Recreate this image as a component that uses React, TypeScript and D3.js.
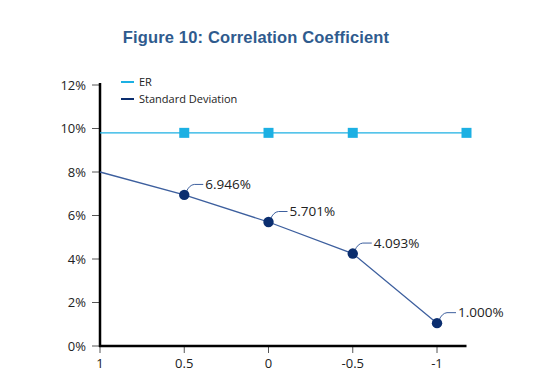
import React from "react";
import * as d3 from "d3";

const title = "Figure 10: Correlation Coefficient";
const xTicks = [1, 0.5, 0, -0.5, -1];
const xTickLabels = ["1", "0.5", "0", "-0.5", "-1"];
const yTicks = [0, 2, 4, 6, 8, 10, 12];
const erX = [1, 0.5, 0, -0.5, -1.175];
const erY = [9.8, 9.8, 9.8, 9.8, 9.8];
const sdX = [1, 0.5, 0, -0.5, -1];
const sdY = [8.0, 6.946, 5.701, 4.25, 1.05];
const sdLabels = ["", "6.946%", "5.701%", "4.093%", "1.000%"];
const legendItems = ["ER", "Standard Deviation"];

const ER_COLOR = "#1cb0e3";
const SD_LINE = "#3d5f9e";
const SD_DOT = "#0b2e6f";
const FONT = "'Open Sans', 'Noto Sans', sans-serif";

export default function App() {
  const W = 555, H = 390;
  const x = d3.scaleLinear().domain([1, -1.175]).range([100, 466.5]);
  const y = d3.scaleLinear().domain([0, 12]).range([346, 85]);
  const line = d3.line<[number, number]>().x(d => x(d[0])).y(d => y(d[1]));
  const erPts: [number, number][] = erX.map((v, i) => [v, erY[i]]);
  const sdPts: [number, number][] = sdX.map((v, i) => [v, sdY[i]]);

  return (
    <svg width={W} height={H} style={{ position: "absolute", left: 0, top: 0, background: "#fff" }}>
      <text x={256} y={43} textAnchor="middle" fontFamily="'Liberation Sans', Arial, sans-serif"
        fontWeight="bold" fontSize={16.5} letterSpacing={0.15} fill="#2f5b8e">{title}</text>

      {/* y ticks */}
      {yTicks.map(t => (
        <g key={"y" + t}>
          <line x1={92} x2={100} y1={y(t)} y2={y(t)} stroke="#555" strokeWidth={1} />
          <text x={86} y={y(t)} dy="0.35em" textAnchor="end" fontFamily={FONT} fontSize={13} fill="#222">{t}%</text>
        </g>
      ))}
      {/* x ticks */}
      {xTicks.map((t, i) => (
        <g key={"x" + i}>
          <line x1={x(t)} x2={x(t)} y1={346} y2={353} stroke="#555" strokeWidth={1} />
          <text x={x(t)} y={368} textAnchor="middle" fontFamily={FONT} fontSize={13} fill="#222">{xTickLabels[i]}</text>
        </g>
      ))}
      {/* axes */}
      <line x1={100} x2={100} y1={y(12) - 2} y2={347} stroke="#000" strokeWidth={2.5} />
      <line x1={99} x2={x(-1.175)} y1={346} y2={346} stroke="#000" strokeWidth={2.5} />

      {/* ER */}
      <path d={line(erPts) || ""} fill="none" stroke={ER_COLOR} strokeWidth={1.3} />
      {erPts.slice(1).map((p, i) => (
        <rect key={"er" + i} x={x(p[0]) - 5} y={y(p[1]) - 5} width={10} height={10} fill={ER_COLOR} />
      ))}

      {/* SD */}
      <path d={line(sdPts) || ""} fill="none" stroke={SD_LINE} strokeWidth={1.3} />
      {sdPts.slice(1).map((p, i) => {
        const cx = x(p[0]), cy = y(p[1]);
        return (
          <g key={"sd" + i}>
            <path d={`M${cx + 2},${cy - 3} Q${cx + 5},${cy - 10} ${cx + 10},${cy - 10.5} L${cx + 19},${cy - 10.5}`}
              fill="none" stroke={SD_LINE} strokeWidth={1} />
            <circle cx={cx} cy={cy} r={5.2} fill={SD_DOT} />
            <text x={cx + 21} y={cy - 10.5} dy="0.35em" fontFamily={FONT} fontSize={13.5} fill="#222">{sdLabels[i + 1]}</text>
          </g>
        );
      })}

      {/* legend */}
      {legendItems.map((name, i) => (
        <g key={"lg" + i}>
          <line x1={121} x2={134} y1={82 + i * 17} y2={82 + i * 17} stroke={i === 0 ? ER_COLOR : SD_DOT} strokeWidth={2} />
          <text x={139} y={82 + i * 17} dy="0.35em" fontFamily={FONT} fontSize={11} fill="#222">{name}</text>
        </g>
      ))}
    </svg>
  );
}
